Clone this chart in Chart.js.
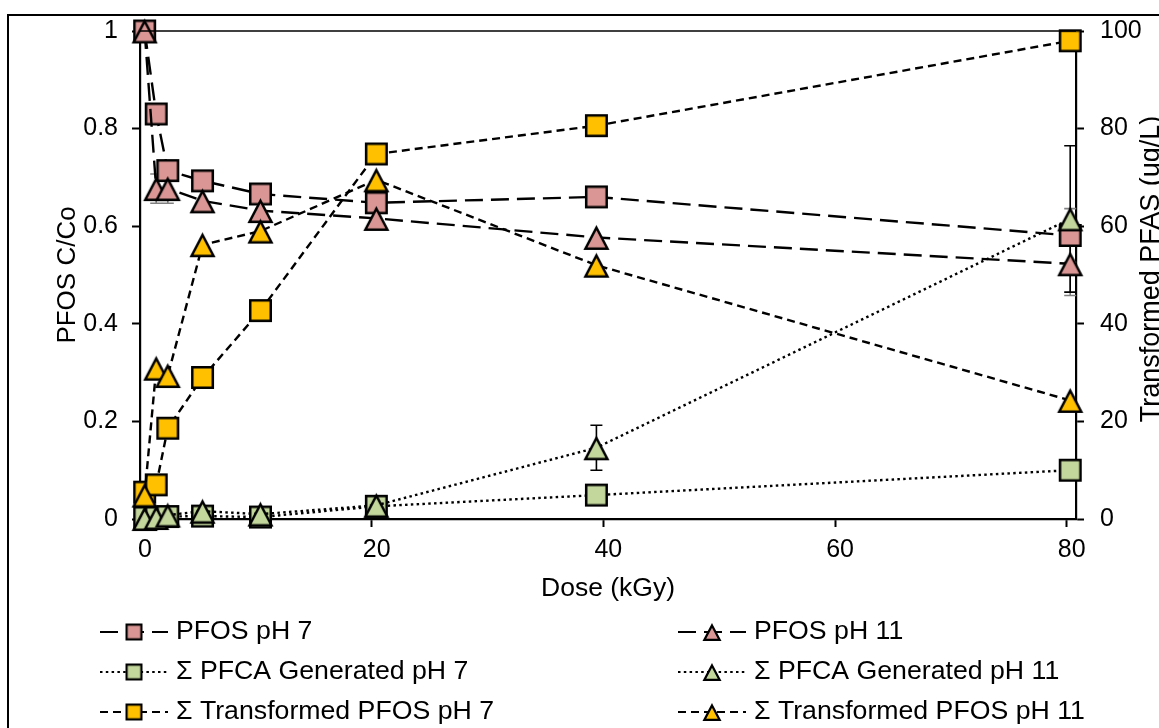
<!DOCTYPE html>
<html>
<head>
<meta charset="utf-8">
<title>PFOS degradation vs dose</title>
<script src="https://cdn.jsdelivr.net/npm/chart.js@4.4.1/dist/chart.umd.min.js"></script>
<style>
  html, body { margin: 0; padding: 0; background: #fff; }
  canvas { display: block; }
</style>
</head>
<body>
<canvas id="chart" width="1159" height="728"></canvas>
<script>
// dose (kGy) shared by every series
const doses = [0.4, 1.4, 2.4, 5.4, 10.4, 20.4, 39.4, 80.3];

// left axis, C/Co
const pfosPh7 = [1.0, 0.83, 0.714, 0.693, 0.666, 0.648, 0.660, 0.581];
const pfosPh11 = [1.0, 0.677, 0.677, 0.652, 0.632, 0.616, 0.577, 0.523];

// right axis, ug/L
const pfcaPh7 = [0.3, 0.3, 0.5, 0.6, 0.4, 2.6, 4.9, 10.0];
const pfcaPh11 = [0.1, 0.3, 0.8, 1.6, 1.0, 2.8, 14.6, 61.5];
const transPh7 = [5.5, 7.0, 18.6, 29.0, 42.7, 74.8, 80.6, 98.0];
const transPh11 = [4.9, 30.9, 29.4, 56.2, 59.0, 69.5, 52.0, 24.3];

// error bars (+/-)
const pfosPh7Err = [0, 0, 0, 0, 0, 0, 0, 0.055];
const pfosPh11Err = [0, 0.03, 0.03, 0, 0, 0, 0, 0.065];
const pfcaPh11Err = [0, 0, 0, 0, 0, 0, 4.6, 15];

const legendLabels = [
    'PFOS pH 7', 'PFOS pH 11',
    '\u03A3 PFCA Generated pH 7', '\u03A3 PFCA Generated pH 11',
    '\u03A3 Transformed PFOS pH 7', '\u03A3 Transformed PFOS pH 11'
];
const xTicks = [0, 20, 40, 60, 80];

const FONT = "'Liberation Sans', Arial, sans-serif";
const PINK = '#D99694';
const GREEN = '#C3D69B';
const YELLOW = '#FFC000';

const LONG_DASH = [18, 8];
const DOTS = [2.5, 3.3];
const SHORT_DASH = [8, 5];

// square / triangle markers with black outline
function makeMarker(shape, size, fill, lw) {
    const pad = 3;
    const c = document.createElement('canvas');
    c.width = size + pad * 2;
    c.height = size + pad * 2;
    const g = c.getContext('2d');
    g.fillStyle = fill;
    g.strokeStyle = '#000';
    g.lineWidth = lw;
    g.beginPath();
    if (shape === 'square') {
        g.rect(pad + lw / 2, pad + lw / 2, size - lw, size - lw);
    } else {
        g.moveTo(c.width / 2, pad + lw * 1.1);
        g.lineTo(c.width - pad - lw * 0.6, pad + size - lw / 2);
        g.lineTo(pad + lw * 0.6, pad + size - lw / 2);
        g.closePath();
    }
    g.fill();
    g.stroke();
    return c;
}

function series(label, data, axis, shape, fill, dash, order, errors, errColor) {
    const size = shape === 'square' ? 23 : 25;
    return {
        label: label,
        data: data.map((v, i) => ({x: doses[i], y: v})),
        yAxisID: axis,
        borderColor: '#000',
        borderWidth: 2.4,
        borderDash: dash,
        pointStyle: makeMarker(shape, size, fill, 2.5),
        legendMarker: makeMarker(shape, shape === 'square' ? 17 : 18, fill, 2.2),
        pointRadius: 12,
        pointHoverRadius: 12,
        tension: 0,
        fill: false,
        clip: false,
        order: order,
        errors: errors,
        errColor: errColor
    };
}

const errorBars = {
    id: 'errorBars',
    beforeDatasetsDraw(chart) {
        const ctx = chart.ctx;
        const xs = chart.scales.x;
        chart.data.datasets.forEach(ds => {
            if (!ds.errors) return;
            const ys = chart.scales[ds.yAxisID];
            ctx.save();
            ctx.strokeStyle = ds.errColor;
            ctx.lineWidth = 1.6;
            ds.errors.forEach((e, i) => {
                if (!e) return;
                const x = xs.getPixelForValue(ds.data[i].x);
                const top = ys.getPixelForValue(ds.data[i].y + e);
                const bot = ys.getPixelForValue(ds.data[i].y - e);
                ctx.beginPath();
                ctx.moveTo(x, top); ctx.lineTo(x, bot);
                ctx.moveTo(x - 6, top); ctx.lineTo(x + 6, top);
                ctx.moveTo(x - 6, bot); ctx.lineTo(x + 6, bot);
                ctx.stroke();
            });
            ctx.restore();
        });
    }
};

// frame, plot top line, right axis title and the legend
const decorations = {
    id: 'decorations',
    afterDraw(chart) {
        const ctx = chart.ctx;
        const area = chart.chartArea;
        ctx.save();
        ctx.strokeStyle = '#000';
        ctx.lineWidth = 2;
        ctx.strokeRect(8, 15, 1300, 900);

        ctx.lineWidth = 1.4;
        ctx.beginPath();
        ctx.moveTo(area.left, area.top);
        ctx.lineTo(area.right, area.top);
        ctx.stroke();

        ctx.fillStyle = '#000';
        ctx.font = '27px ' + FONT;
        ctx.textAlign = 'center';
        ctx.textBaseline = 'middle';
        ctx.translate(1152, 269);
        ctx.rotate(-Math.PI / 2);
        ctx.fillText('Transformed PFAS (ug/L)', 0, 0);
        ctx.restore();

        // legend: two columns, three rows
        const cols = [100, 678];
        const rows = [632, 672, 712];
        chart.data.datasets.forEach((ds, i) => {
            const x0 = cols[i % 2];
            const y = rows[Math.floor(i / 2)];
            ctx.save();
            ctx.strokeStyle = '#000';
            ctx.lineWidth = 2;
            ctx.setLineDash(ds.borderDash);
            ctx.beginPath();
            ctx.moveTo(x0, y);
            ctx.lineTo(x0 + 68, y);
            ctx.stroke();
            const m = ds.legendMarker;
            ctx.drawImage(m, x0 + 34 - m.width / 2, y - m.height / 2);
            ctx.fillStyle = '#000';
            ctx.font = '26.7px ' + FONT;
            ctx.textAlign = 'left';
            ctx.textBaseline = 'middle';
            ctx.fillText(ds.label, x0 + 76, y);
            ctx.restore();
        });
    }
};

const ctx = document.getElementById('chart').getContext('2d');
new Chart(ctx, {
    type: 'line',
    data: {
        datasets: [
            series(legendLabels[0], pfosPh7, 'y', 'square', PINK, LONG_DASH, 6, pfosPh7Err, '#808080'),
            series(legendLabels[1], pfosPh11, 'y', 'triangle', PINK, LONG_DASH, 5, pfosPh11Err, '#808080'),
            series(legendLabels[2], pfcaPh7, 'y1', 'square', GREEN, DOTS, 4),
            series(legendLabels[3], pfcaPh11, 'y1', 'triangle', GREEN, DOTS, 3, pfcaPh11Err, '#000'),
            series(legendLabels[4], transPh7, 'y1', 'square', YELLOW, SHORT_DASH, 2),
            series(legendLabels[5], transPh11, 'y1', 'triangle', YELLOW, SHORT_DASH, 1)
        ]
    },
    options: {
        responsive: false,
        animation: false,
        layout: {
            padding: {left: 0, right: 0, top: 30, bottom: 123}
        },
        plugins: {
            legend: {display: false},
            tooltip: {enabled: false}
        },
        scales: {
            x: {
                type: 'linear',
                min: 0,
                max: 80.8,
                afterFit: s => { s.height = 86; },
                afterBuildTicks: s => { s.ticks = xTicks.map(v => ({value: v})); },
                border: {color: '#000', width: 2.2},
                grid: {drawOnChartArea: false, drawTicks: true, tickLength: 8, tickColor: '#000', tickWidth: 2},
                ticks: {color: '#000', font: {family: FONT, size: 25}, padding: 8, labelOffset: 5, maxRotation: 0},
                title: {display: true, text: 'Dose (kGy)', color: '#000', font: {family: FONT, size: 26.5}, padding: 0}
            },
            y: {
                position: 'left',
                min: 0,
                max: 1,
                afterFit: s => { s.width = 140; },
                border: {color: '#000', width: 2.2},
                grid: {drawOnChartArea: false, drawTicks: true, tickLength: 8, tickColor: '#000', tickWidth: 2},
                ticks: {
                    stepSize: 0.2, color: '#000', font: {family: FONT, size: 25}, padding: 14,
                    callback: v => String(Number(v.toFixed(1)))
                },
                title: {display: true, text: 'PFOS C/Co', color: '#000', font: {family: FONT, size: 26}, padding: {top: 52, bottom: 0}}
            },
            y1: {
                position: 'right',
                min: 0,
                max: 100,
                afterFit: s => { s.width = 83; },
                border: {color: '#000', width: 2.2},
                grid: {drawOnChartArea: false, drawTicks: true, tickLength: 8, tickColor: '#000', tickWidth: 2},
                ticks: {stepSize: 20, color: '#000', font: {family: FONT, size: 25}, padding: 16}
            }
        }
    },
    plugins: [errorBars, decorations]
});
</script>
</body>
</html>
